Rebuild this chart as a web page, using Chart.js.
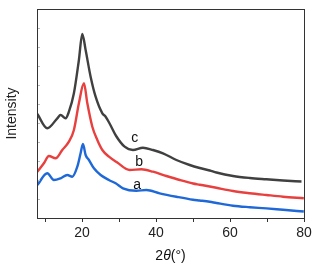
<!DOCTYPE html>
<html><head><meta charset="utf-8">
<script src="https://cdn.jsdelivr.net/npm/chart.js@4.4.0/dist/chart.umd.min.js"></script>
<style>html,body{margin:0;padding:0;background:#fff}#wrap{width:318px;height:267px}</style>
</head><body><div id="wrap"><canvas id="c" width="318" height="267"></canvas></div>
<script>
const xTicks = [10,20,30,40,50,60,70,80];
const xLabeled = [20,40,60,80];
const seriesNames = ['a','b','c'];
const cX = [7.9,10.58,13.29,14.18,15.53,16.43,17.78,19.13,20.05,20.95,22.30,23.65,25.47,26.36,27.5,29.2,31.5,33.75,36.45,39.16,41.87,45.49,49.09,51.8,54.51,56.32,60.81,65.33,69.85,74.34,79.32];
const cY = [104,89.7,99.7,103,99.7,106.3,124.7,158,184,168,141.3,121.3,104.7,101.3,94,82,71.3,68,70.3,68,64.7,58,53,50,47.5,45.5,42,40,38.7,37.5,36.5];
const bX = [7.9,9.66,11.01,12.83,14.64,16.43,17.78,19.13,20.49,21.41,22.76,24.11,25.47,27.25,29.5,32.86,36.02,39.16,42.79,46.39,50,51.8,54.5,56.3,60.81,65.33,69.85,74.34,79.95];
const bY = [46.3,54.7,62,59.7,68,76.3,88,114.7,134.7,114.7,91.3,78,68,61.3,55.5,48,48.7,46.3,42,38,34.5,33.3,31.5,30.2,27,24.8,23,21.3,19.7];
const aX = [7.9,10.58,12.37,14.18,15.99,17.35,18.7,19.59,20.22,20.95,21.84,23.19,25.01,27.25,29.07,31.04,34.67,37.37,40.97,45.49,49.99,51.8,54.51,56.32,60.81,65.33,69.85,74.34,79.95];
const aY = [33,44.7,38,39.7,43,41.3,51.3,64.7,74,63,58,49.7,43,38,34.7,29.7,27.3,28,24.7,21.3,18.3,17.5,16.2,15,12.3,10.8,9.6,8.2,6.5];
const labelX = [34.9,35.4,34.2];
const labelY = [33,56,80];
const colors = ['#1f68d8','#e8403e','#404040'];

function pts(xs, ys){ return xs.map((x,i)=>({x:x,y:ys[i]})); }

const FONT = "'Liberation Sans', Arial, sans-serif";

const deco = {
  id:'deco',
  afterDraw(chart){
    const ctx = chart.ctx, a = chart.chartArea;
    const xs = chart.scales.x, ys = chart.scales.y;
    ctx.save();
    ctx.strokeStyle = '#bbbbbb'; ctx.lineWidth = 1;
    for (let v = 0; v <= 209; v += 19) {
      const py = Math.round(ys.getPixelForValue(v)) + 0.5;
      ctx.beginPath(); ctx.moveTo(a.left, py); ctx.lineTo(a.left + 3, py); ctx.stroke();
    }
    ctx.strokeStyle = '#333'; ctx.lineWidth = 1;
    ctx.strokeRect(Math.round(a.left)+0.5, Math.round(a.top)+0.5, Math.round(a.right-a.left), Math.round(a.bottom-a.top));
    ctx.fillStyle = '#111';
    ctx.font = '14px ' + FONT;
    ctx.textAlign = 'center'; ctx.textBaseline = 'middle';
    seriesNames.forEach((n,i)=>{
      ctx.fillText(n, xs.getPixelForValue(labelX[i]), ys.getPixelForValue(labelY[i]));
    });
    const cx = (a.left + a.right)/2, ty = 256;
    const parts = [['2','14px '+FONT],['θ','italic 14px '+FONT],['(°)','14px '+FONT]];
    let total = 0;
    parts.forEach(p=>{ ctx.font = p[1]; total += ctx.measureText(p[0]).width; });
    let x0 = cx - total/2;
    ctx.textAlign = 'left';
    parts.forEach(p=>{ ctx.font = p[1]; ctx.fillText(p[0], x0, ty); x0 += ctx.measureText(p[0]).width; });
    ctx.restore();
  }
};

new Chart(document.getElementById('c'), {
  type:'line',
  data:{ datasets:[
    {label:'a', data:pts(aX,aY), borderColor:colors[0]},
    {label:'b', data:pts(bX,bY), borderColor:colors[1]},
    {label:'c', data:pts(cX,cY), borderColor:colors[2]}
  ].map(d=>Object.assign(d,{borderWidth:2.4, pointRadius:0, fill:false, cubicInterpolationMode:'monotone'}))},
  options:{
    responsive:false, animation:false, devicePixelRatio:1,
    layout:{padding:{left:0,right:14,top:9,bottom:0}},
    plugins:{legend:{display:false}, tooltip:{enabled:false}},
    scales:{
      x:{type:'linear', min:7.8, max:80,
        afterBuildTicks(s){ s.ticks = xTicks.map(v=>({value:v})); },
        afterFit(s){ s.height = 49; },
        grid:{drawOnChartArea:false, drawTicks:true, tickLength:4, color:'#333'},
        border:{display:true, color:'#333'},
        ticks:{padding:3, color:'#222', font:{family:FONT, size:14}, maxRotation:0, autoSkip:false,
          callback:(v)=> xLabeled.includes(v) ? String(v) : ''}
      },
      y:{type:'linear', min:0, max:209,
        afterFit(s){ s.width = 37; },
        grid:{display:false},
        border:{display:true, color:'#333'},
        ticks:{display:false},
        title:{display:true, text:'Intensity', color:'#222', font:{family:FONT, size:14}, padding:{top:4,bottom:0}}
      }
    }
  },
  plugins:[deco]
});
</script></body></html>
